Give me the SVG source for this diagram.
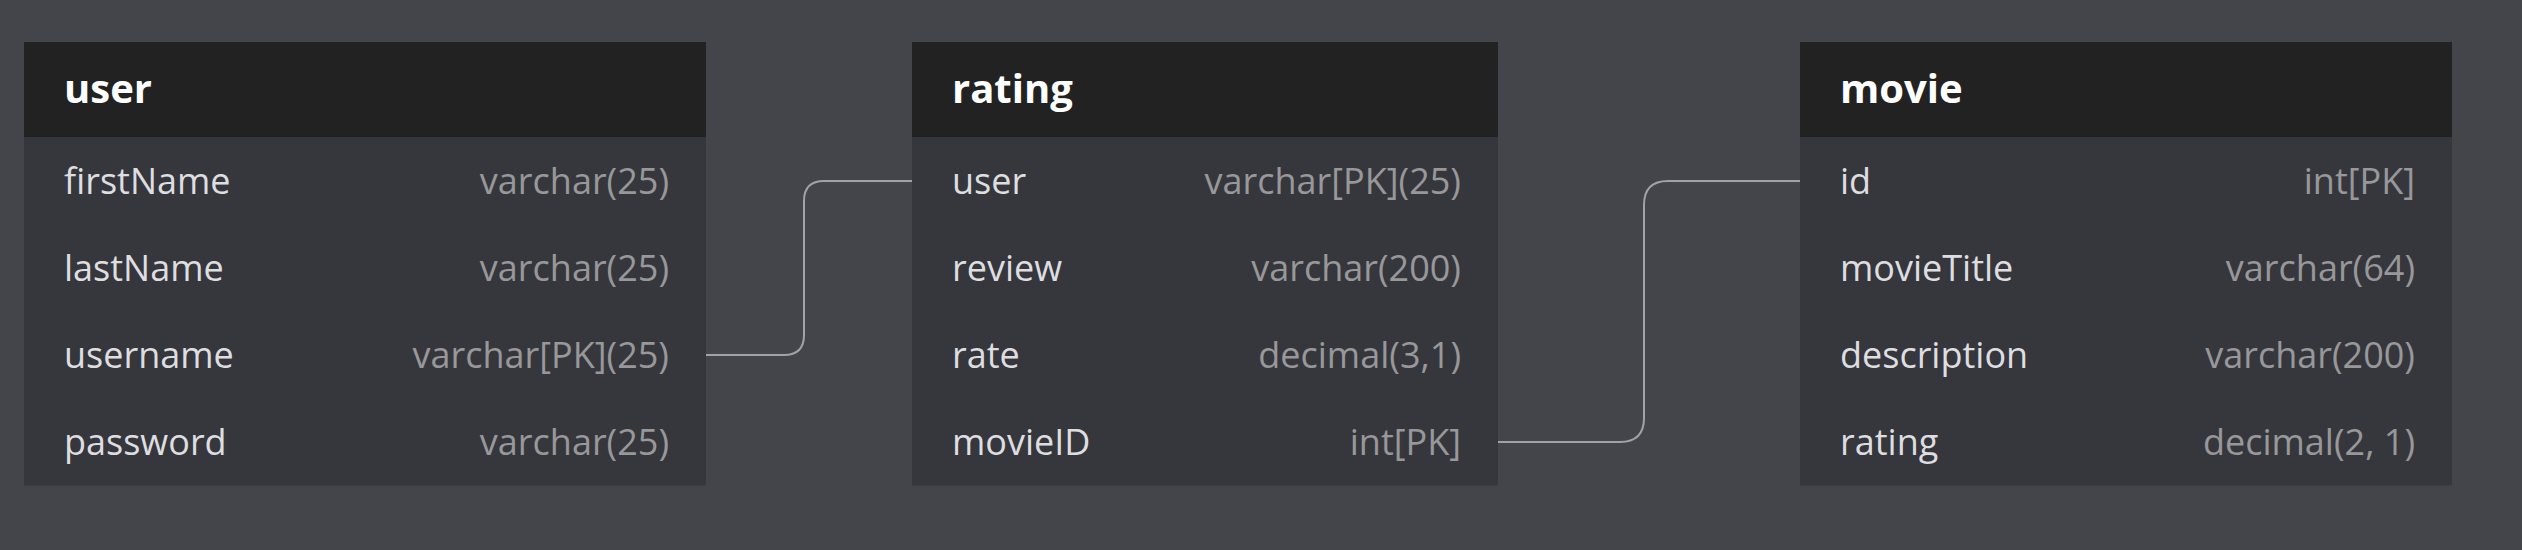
<svg xmlns="http://www.w3.org/2000/svg" width="2522" height="550" viewBox="0 0 2522 550">
<style>
.bg{fill:#44454a}
.hd{fill:#222222}
.bd{fill:#36373c}
.ht{font-family:"Open Sans","Liberation Sans",sans-serif;font-weight:700;font-size:40px;fill:#ffffff}
.fn{font-family:"Open Sans","Liberation Sans",sans-serif;font-size:36px;fill:#dedee0}
.ft{font-family:"Open Sans","Liberation Sans",sans-serif;font-size:36px;fill:#98989a;text-anchor:end}
.cn{fill:none;stroke:#a1a2a6;stroke-width:2}
</style>
<rect class="bg" x="0" y="0" width="2522" height="550"/>
<g id="connectors">
<path class="cn" d="M706,355 L784,355 Q804,355 804,335 L804,201 Q804,181 824,181 L912,181"/>
<path class="cn" d="M1498,442 L1620,442 Q1644,442 1644,418 L1644,205 Q1644,181 1668,181 L1800,181"/>
</g>
<g id="user">
<rect class="hd" x="24" y="42" width="682" height="95.5"/>
<rect class="bd" x="24" y="137.5" width="682" height="348"/>
<text class="ht" x="64" y="103">user</text>
<text class="fn" x="64" y="193.5">firstName</text><text class="ft" x="669" y="193.5">varchar(25)</text>
<text class="fn" x="64" y="280.5">lastName</text><text class="ft" x="669" y="280.5">varchar(25)</text>
<text class="fn" x="64" y="367.5">username</text><text class="ft" x="669" y="367.5">varchar[PK](25)</text>
<text class="fn" x="64" y="454.5">password</text><text class="ft" x="669" y="454.5">varchar(25)</text>
</g>
<g id="rating">
<rect class="hd" x="912" y="42" width="586" height="95.5"/>
<rect class="bd" x="912" y="137.5" width="586" height="348"/>
<text class="ht" x="952" y="103">rating</text>
<text class="fn" x="952" y="193.5">user</text><text class="ft" x="1461" y="193.5">varchar[PK](25)</text>
<text class="fn" x="952" y="280.5">review</text><text class="ft" x="1461" y="280.5">varchar(200)</text>
<text class="fn" x="952" y="367.5">rate</text><text class="ft" x="1461" y="367.5">decimal(3,1)</text>
<text class="fn" x="952" y="454.5">movieID</text><text class="ft" x="1461" y="454.5">int[PK]</text>
</g>
<g id="movie">
<rect class="hd" x="1800" y="42" width="652" height="95.5"/>
<rect class="bd" x="1800" y="137.5" width="652" height="348"/>
<text class="ht" x="1840" y="103">movie</text>
<text class="fn" x="1840" y="193.5">id</text><text class="ft" x="2415" y="193.5">int[PK]</text>
<text class="fn" x="1840" y="280.5">movieTitle</text><text class="ft" x="2415" y="280.5">varchar(64)</text>
<text class="fn" x="1840" y="367.5">description</text><text class="ft" x="2415" y="367.5">varchar(200)</text>
<text class="fn" x="1840" y="454.5">rating</text><text class="ft" x="2415" y="454.5">decimal(2, 1)</text>
</g>
</svg>
